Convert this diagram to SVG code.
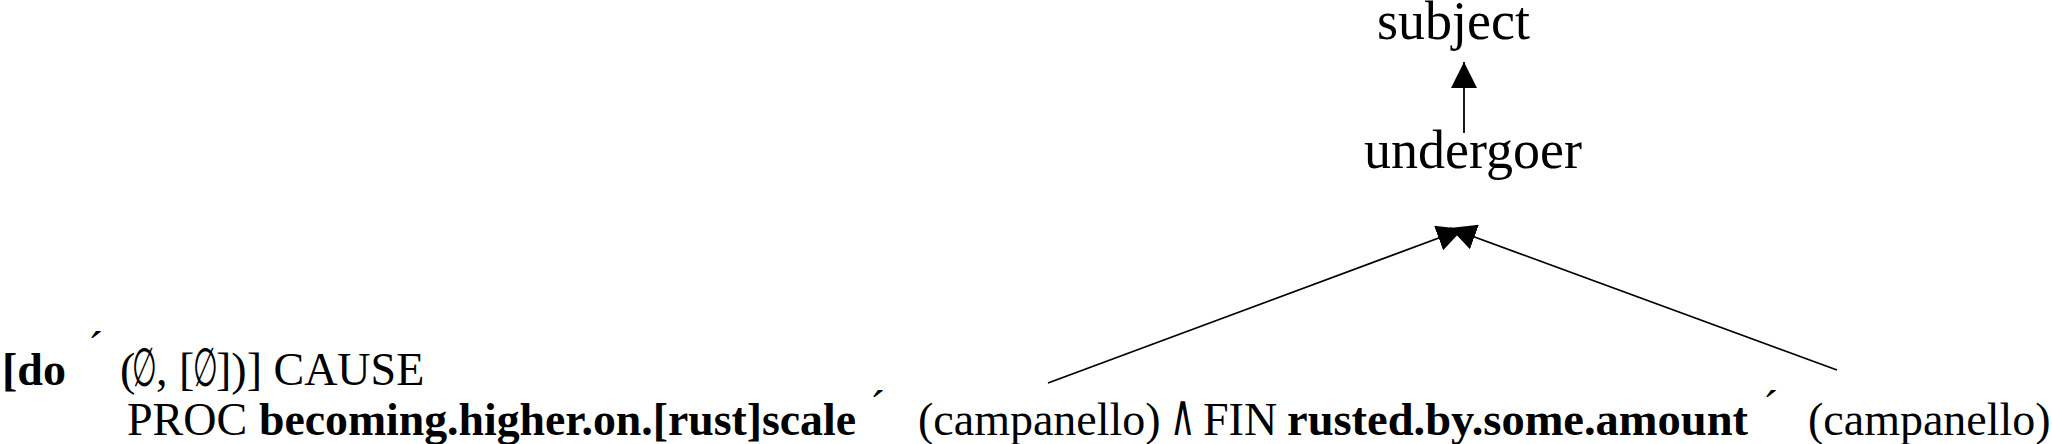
<svg xmlns="http://www.w3.org/2000/svg" width="2052" height="444" viewBox="0 0 2052 444">
<style>
  text { font-family: "Liberation Serif", "Times New Roman", serif; fill: #000; }
  .top { font-size: 54px; }
  .ls { font-size: 46px; }
  .b { font-weight: bold; }
  .sym { font-family: "DejaVu Serif", "Liberation Serif", serif; }
  .conn { stroke: #000; stroke-width: 1.8; fill: none; }
</style>
<defs>
  <marker id="arr" markerUnits="userSpaceOnUse" markerWidth="26" markerHeight="26" refX="26" refY="13" orient="auto" viewBox="0 0 26 26">
    <path d="M0,0 L26,13 L0,26 z" fill="#000"/>
  </marker>
</defs>
<rect width="2052" height="444" fill="#fff"/>
<g id="connectors">
  <line class="conn" x1="1464" y1="133" x2="1464" y2="62" marker-end="url(#arr)"/>
  <line class="conn" x1="1048" y1="383" x2="1463" y2="229" marker-end="url(#arr)"/>
  <line class="conn" x1="1837" y1="370" x2="1450" y2="228" marker-end="url(#arr)"/>
</g>
<g id="subject">
  <text class="top" x="1377" y="39">subject</text>
</g>
<g id="undergoer">
  <text class="top" x="1364" y="168">undergoer</text>
</g>
<g id="logical-structure">
  <text class="ls b" x="2" y="385">[do</text>
  <text class="ls" x="88" y="364">´</text>
  <text class="ls" x="120" y="385">(</text>
  <text class="sym" font-size="46" transform="translate(132,386) scale(0.62,1.18)">∅</text>
  <text class="ls" x="156" y="385">,</text>
  <text class="ls" x="179" y="385">[</text>
  <text class="sym" font-size="46" transform="translate(193,386) scale(0.62,1.18)">∅</text>
  <text class="ls" x="216" y="385">])] CAUSE</text>
  <text class="ls" x="127" y="435">PROC</text>
  <text class="ls b" x="259" y="435" textLength="597" lengthAdjust="spacingAndGlyphs">becoming.higher.on.[rust]scale</text>
  <text class="ls" x="870" y="423">´</text>
  <g id="arg1"><text class="ls" x="918" y="435">(campanello)</text></g>
  <text class="sym" font-size="58" transform="translate(1170,435) scale(0.6,1)">∧</text>
  <text class="ls" x="1203" y="435">FIN</text>
  <text class="ls b" x="1287" y="435" textLength="461" lengthAdjust="spacingAndGlyphs">rusted.by.some.amount</text>
  <text class="ls" x="1763" y="423">´</text>
  <g id="arg2"><text class="ls" x="1808" y="435">(campanello)</text></g>
</g>
</svg>
